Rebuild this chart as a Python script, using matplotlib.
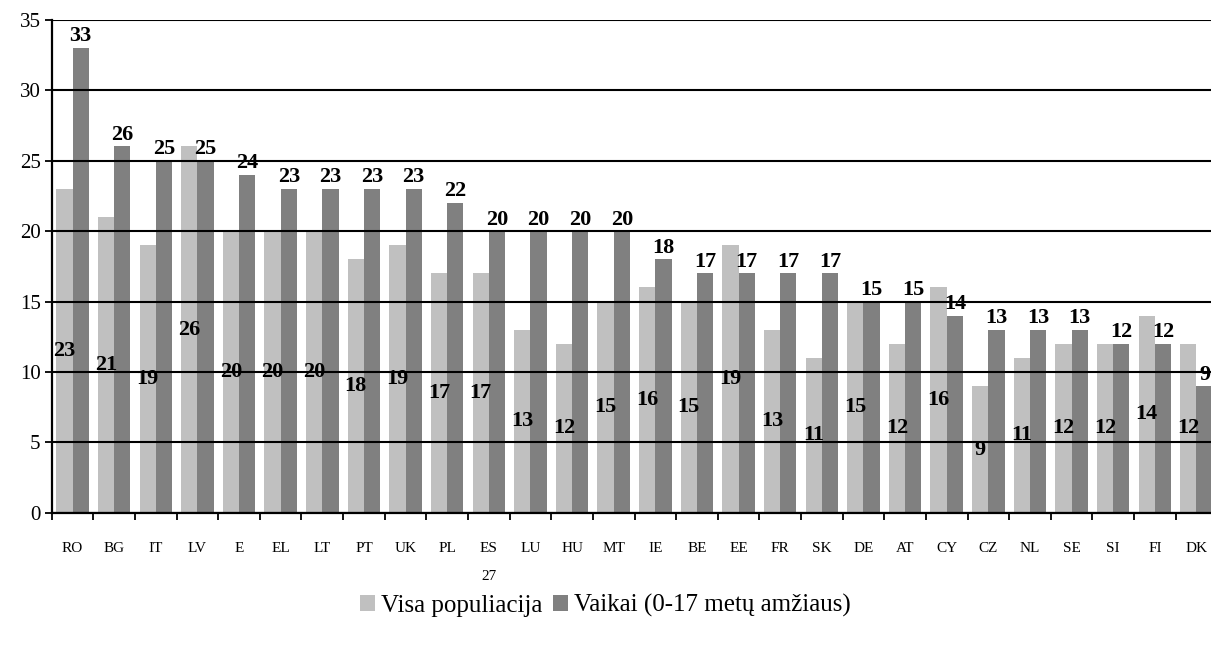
import matplotlib.pyplot as plt
import numpy as np

plt.rcParams['font.family'] = ['Liberation Serif', 'DejaVu Serif']

salys = ['RO', 'BG', 'IT', 'LV', 'E', 'EL', 'LT', 'PT', 'UK', 'PL', 'ES\n27', 'LU', 'HU', 'MT',
         'IE', 'BE', 'EE', 'FR', 'SK', 'DE', 'AT', 'CY', 'CZ', 'NL', 'SE', 'SI', 'FI', 'DK']
visa = [23, 21, 19, 26, 20, 20, 20, 18, 19, 17, 17, 13, 12, 15,
        16, 15, 19, 13, 11, 15, 12, 16, 9, 11, 12, 12, 14, 12]
vaikai = [33, 26, 25, 25, 24, 23, 23, 23, 23, 22, 20, 20, 20, 20,
          18, 17, 17, 17, 17, 15, 15, 14, 13, 13, 13, 12, 12, 9]

fig = plt.figure(figsize=(12.11, 6.51), dpi=100)
ax = fig.add_axes([0.0427, 0.212, 0.9625, 0.758])

x = np.arange(len(salys))
w = 0.39
b1 = ax.bar(x - w / 2, visa, w, color='#c0c0c0', label='Visa populiacija', zorder=1)
b2 = ax.bar(x + w / 2, vaikai, w, color='#808080', label='Vaikai (0-17 metų amžiaus)', zorder=1)

# reiksmes: sviesiems stulpeliams viduryje, tamsiems virsuje
for xi, v in zip(x, visa):
    ax.text(xi - w / 2, v / 2, str(v), ha='center', va='center',
            fontsize=16, fontweight='bold', zorder=4)
for xi, v in zip(x, vaikai):
    ax.annotate(str(v), (xi + w / 2, v), xytext=(0, 1), textcoords='offset points',
                ha='center', va='bottom', fontsize=16, fontweight='bold', zorder=4)

ax.set_xlim(-0.5, len(salys) - 0.5)
ax.set_ylim(0, 35)
ax.set_yticks(range(0, 36, 5))
ax.set_axisbelow(False)
ax.yaxis.grid(True, color='black', linewidth=1.5)

ax.set_xticks(x)
ax.set_xticklabels(salys, fontsize=11, linespacing=2.5, va='top')
ax.set_xticks(np.arange(-0.5, len(salys), 1), minor=True)
ax.tick_params(axis='x', which='major', length=0, pad=21)
ax.tick_params(axis='x', which='minor', length=5, width=1.3, direction='out')
ax.tick_params(axis='y', labelsize=15, length=5, width=1.3, direction='out', pad=3)

for s in ['top', 'right']:
    ax.spines[s].set_visible(False)
for s in ['left', 'bottom']:
    ax.spines[s].set_linewidth(1.6)
    ax.spines[s].set_color('black')

fig.legend(handles=[b1, b2], loc='center', bbox_to_anchor=(0.5, 0.07), ncol=2,
           frameon=False, fontsize=18, handlelength=0.6, handleheight=0.6,
           handletextpad=0.25, columnspacing=0.4)

fig.savefig('out.png', dpi=100)
